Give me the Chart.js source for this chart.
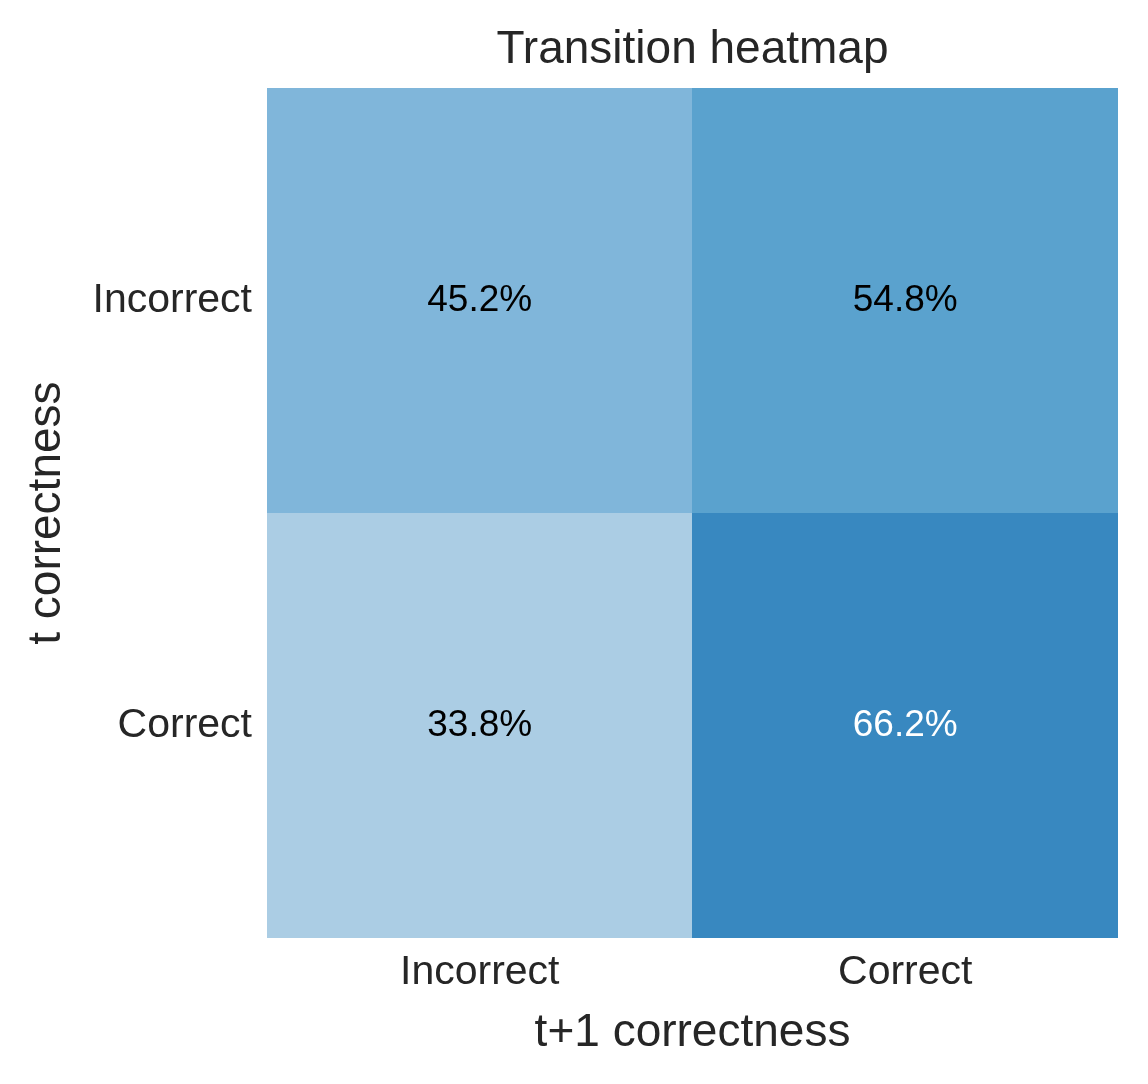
<!DOCTYPE html>
<html>
<head>
<meta charset="utf-8">
<script src="https://cdn.jsdelivr.net/npm/chart.js@4"></script>
<style>
  html, body { margin: 0; padding: 0; background: #fff; }
  #c { display: block; }
</style>
</head>
<body>
<canvas id="c" width="1148" height="1084"></canvas>
<script>
const chartTitle = 'Transition heatmap';
const colLabels = ['Incorrect', 'Correct'];   // t+1 correctness
const rowLabels = ['Incorrect', 'Correct'];   // t correctness
const values = [
  [45.2, 54.8],
  [33.8, 66.2]
];
const cellColors = [
  ['#80b6da', '#5aa2ce'],
  ['#abcde4', '#3888c0']
];
const xTitle = 't+1 correctness';
const yTitle = 't correctness';

const points = [];
values.forEach((row, r) => row.forEach((v, c) => points.push({ x: c, y: r, v: v })));

function textColorFor(hex) {
  const n = parseInt(hex.slice(1), 16);
  const R = (n >> 16) & 255, G = (n >> 8) & 255, B = n & 255;
  const lum = (0.299 * R + 0.587 * G + 0.114 * B) / 255;
  return lum < 0.5 ? '#ffffff' : '#000000';
}

const heatmapPlugin = {
  id: 'heatmapCells',
  afterLayout(chart) {
    if (chart.titleBlock) {
      chart.titleBlock.left = chart.chartArea.left;
      chart.titleBlock.right = chart.chartArea.right;
    }
  },
  beforeDatasetsDraw(chart) {
    const { ctx } = chart;
    const xs = chart.scales.x, ys = chart.scales.y;
    ctx.save();
    values.forEach((row, r) => row.forEach((v, c) => {
      const x0 = Math.floor(xs.getPixelForValue(c - 0.5)), x1 = Math.floor(xs.getPixelForValue(c + 0.5));
      const y0 = Math.round(ys.getPixelForValue(r - 0.5)), y1 = Math.round(ys.getPixelForValue(r + 0.5));
      ctx.fillStyle = cellColors[r][c];
      ctx.fillRect(Math.min(x0, x1), Math.min(y0, y1), Math.abs(x1 - x0), Math.abs(y1 - y0));
    }));
    values.forEach((row, r) => row.forEach((v, c) => {
      const cx = xs.getPixelForValue(c), cy = ys.getPixelForValue(r);
      ctx.fillStyle = textColorFor(cellColors[r][c]);
      ctx.font = '37px "Liberation Sans", Arial, sans-serif';
      ctx.textAlign = 'center';
      ctx.textBaseline = 'middle';
      ctx.fillText(v.toFixed(1) + '%', cx, cy);
    }));
    ctx.restore();
  }
};

const font = '"Liberation Sans", Arial, sans-serif';

new Chart(document.getElementById('c'), {
  type: 'scatter',
  data: { datasets: [{ data: points, pointRadius: 0, pointHoverRadius: 0 }] },
  options: {
    responsive: false,
    animation: false,
    events: [],
    layout: { padding: { left: 0, right: 30, top: 0, bottom: 0 } },
    plugins: {
      legend: { display: false },
      tooltip: { enabled: false },
      title: {
        display: true,
        text: chartTitle,
        color: '#262626',
        font: { family: font, size: 46, weight: 'normal', lineHeight: 1.2 },
        padding: { top: 23, bottom: 10 }
      }
    },
    scales: {
      x: {
        type: 'linear',
        min: -0.5, max: 1.5,
        afterBuildTicks(s) { s.ticks = colLabels.map((_, i) => ({ value: i })); },
        afterFit(s) { s.height = 146; },
        ticks: {
          callback: (v) => colLabels[v],
          color: '#262626',
          font: { family: font, size: 41 },
          padding: 10,
          maxRotation: 0
        },
        grid: { display: false, drawTicks: false },
        border: { display: false },
        title: {
          display: true, text: xTitle, color: '#262626',
          font: { family: font, size: 46, lineHeight: 1.2 },
          padding: { top: 0, bottom: 23 }
        }
      },
      y: {
        type: 'linear',
        reverse: true,
        min: -0.5, max: 1.5,
        afterBuildTicks(s) { s.ticks = rowLabels.map((_, i) => ({ value: i })); },
        afterFit(s) { s.width = 267; },
        ticks: {
          callback: (v) => rowLabels[v],
          color: '#262626',
          font: { family: font, size: 41 },
          padding: 15
        },
        grid: { display: false, drawTicks: false },
        border: { display: false },
        title: {
          display: true, text: yTitle, color: '#262626',
          font: { family: font, size: 46, lineHeight: 1.2 },
          padding: { top: 20, bottom: 0 }
        }
      }
    }
  },
  plugins: [heatmapPlugin]
});
</script>
</body>
</html>
